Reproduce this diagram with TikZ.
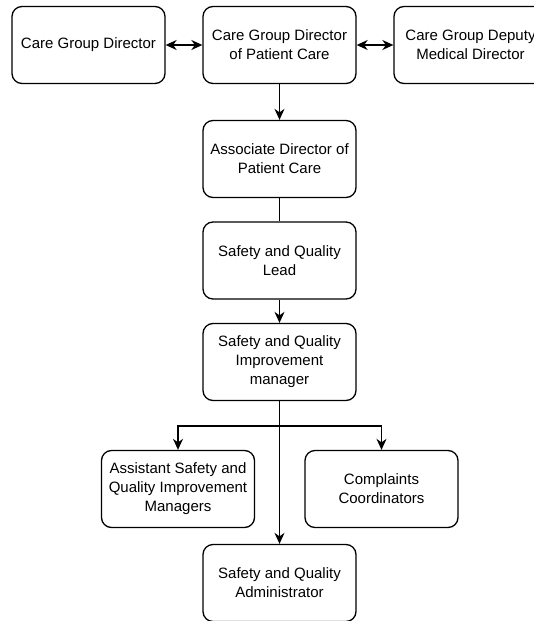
\documentclass[tikz,border=0pt]{standalone}
\usepackage{fontspec}
\setmainfont{Liberation Sans}
\usetikzlibrary{arrows.meta}
\begin{document}
\begin{tikzpicture}[x=1pt,y=-1pt,
  box/.style={draw, line width=1.3pt, rounded corners=10pt, minimum width=153pt, minimum height=77pt, align=center, font=\fontsize{15}{19}\selectfont, inner sep=0pt},
  tip/.tip={Stealth[length=11pt,width=10pt,inset=3.5pt]},
  arr/.style={line width=1.4pt, -tip},
  darr/.style={line width=1.4pt, tip-tip},
  ln/.style={line width=1.4pt}]
\useasboundingbox (0,0) rectangle (534,621);
\node[box] (cgd) at (88.5,45) {Care Group Director};
\node[box] (cgdpc) at (279.5,45) {Care Group Director\\of Patient Care};
\node[box] (dep) at (470.5,45) {Care Group Deputy\\Medical Director};
\node[box] (adpc) at (279.5,159) {Associate Director of\\Patient Care};
\node[box] (lead) at (279.5,260.5) {Safety and Quality\\Lead};
\node[box] (mgr) at (279.5,362) {Safety and Quality\\Improvement\\manager};
\node[box] (asst) at (178,489) {Assistant Safety and\\Quality Improvement\\Managers};
\node[box] (comp) at (381.5,489) {Complaints\\Coordinators};
\node[box] (adm) at (279.5,583) {Safety and Quality\\Administrator};
\coordinate (br) at (279.5,426);
\draw[darr] (cgd) -- (cgdpc);
\draw[darr] (cgdpc) -- (dep);
\draw[arr] (cgdpc) -- (adpc);
\draw[ln] (adpc) -- (lead);
\draw[arr] (lead) -- (mgr);
\draw[arr] (mgr) -- (adm);
\draw[arr] (br) -| (asst.north);
\draw[arr] (br) -| (comp.north);
\end{tikzpicture}
\end{document}
